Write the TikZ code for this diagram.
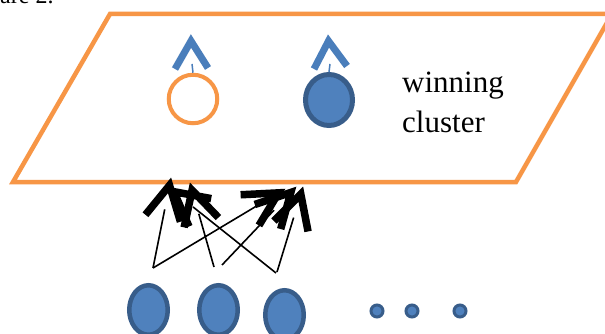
\documentclass[tikz,border=0pt]{standalone}
\usepackage{fontspec}
\setmainfont{Liberation Serif}
\usetikzlibrary{calc,shapes.geometric}
\definecolor{plorange}{HTML}{F79646}
\definecolor{blfill}{HTML}{4F81BD}
\definecolor{blline}{HTML}{385D8A}
\definecolor{caretblue}{HTML}{4A7EBB}
\newcommand{\headto}[2]{%
  \coordinate (#2c) at ($(#2)!7.5pt!(#1)$);
  \draw[thinline] (#1) -- ($(#2)!32pt!(#1)$);
  \draw[headline] ($(#2c)!38pt!28:(#1)$) -- (#2c) -- ($(#2c)!38pt!-28:(#1)$);
}
\begin{document}
\begin{tikzpicture}[x=1pt,y=-1pt,
  plane/.style={draw=plorange, line width=4.5pt, line join=miter},
  bellipse/.style={ellipse, draw=blline, fill=blfill, line width=4.5pt, minimum width=38.5pt, minimum height=49.5pt, inner sep=0pt},
  topellipse/.style={ellipse, draw=blline, fill=blfill, line width=5pt, minimum width=47pt, minimum height=51pt, inner sep=0pt},
  ring/.style={circle, draw=plorange, line width=4pt, minimum size=48.5pt, inner sep=0pt},
  dotnode/.style={circle, draw=blline, fill=blfill, line width=3pt, minimum size=12pt, inner sep=0pt},
  caretline/.style={draw=caretblue, line width=7pt, line cap=butt, line join=miter},
  stem/.style={draw=caretblue, line width=1.5pt},
  thinline/.style={draw=black, line width=1.6pt},
  headline/.style={draw=black, line width=7.5pt, line cap=butt, line join=miter},
  label/.style={font=\fontsize{31}{40}\selectfont, inner sep=0pt, anchor=base west}
]
\useasboundingbox (0,0) rectangle (605,334);
\clip (0,0) rectangle (605,334);
\fill[white] (0,0) rectangle (605,334);

% cut-off caption text
\node[font=\fontsize{24}{28}\selectfont, inner sep=0pt, anchor=base west] (cap) at (0,4) {are 2.};

% plane
\draw[plane] (110,14) -- (612,14) -- (516,182) -- (13,182) -- cycle;

% top cluster markers
\node[ring] (ringL) at (193,99) {};
\node[topellipse] (ellR) at (329,100) {};
\draw[caretline] (175,69) -- (191,41) -- (208,68);
\draw[stem] (192,64) -- (ringL.north);
\draw[caretline] (314,69) -- (328.5,41) -- (347,66);
\draw[stem] (330,64) -- (ellR.north);

\node[label] (win) at (402,93) {winning};
\node[label] (clu) at (402,133) {cluster};

% bottom inputs
\node[bellipse] (b1) at (148.5,310) {};
\node[bellipse] (b2) at (218.5,310) {};
\node[bellipse] (b3) at (284.5,315) {};
\node[dotnode] (d1) at (377,311) {};
\node[dotnode] (d2) at (412,311) {};
\node[dotnode] (d3) at (460,311) {};

% connector ends
\coordinate (s1) at (153,268);
\coordinate (s2a) at (214,267);
\coordinate (s2b) at (222,265);
\coordinate (s3a) at (276,273);
\coordinate (s3b) at (277,272);
\coordinate (tA) at (171,178);
\coordinate (tB) at (285,189);
\coordinate (tC) at (190,183);
\coordinate (tD) at (296,187);
\coordinate (tE) at (168,187);
\coordinate (tF) at (303,187);

\headto{s1}{tA}
\headto{s1}{tB}
\headto{s2a}{tC}
\headto{s2b}{tD}
\headto{s3a}{tE}
\headto{s3b}{tF}
\end{tikzpicture}
\end{document}
